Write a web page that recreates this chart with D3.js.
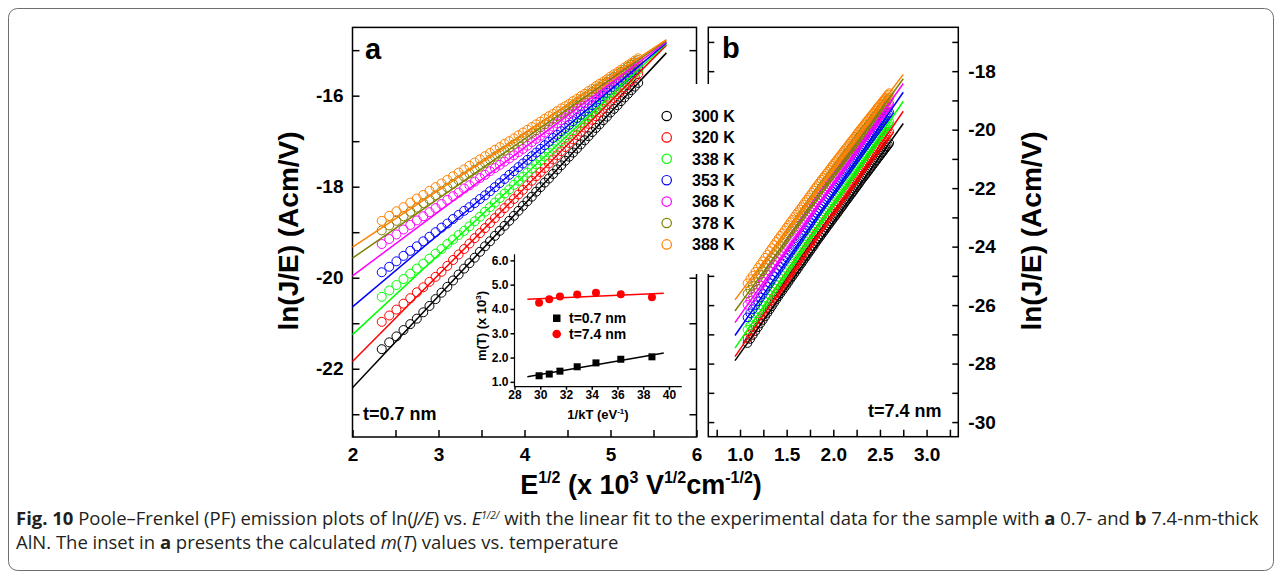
<!DOCTYPE html>
<html>
<head>
<meta charset="utf-8">
<script src="https://cdn.jsdelivr.net/npm/d3@7"></script>
<style>
  body { margin: 0; background: #fff; }
  svg { display: block; }
</style>
</head>
<body>
<svg id="chart" width="1282" height="578"></svg>
<script>
// temperatures and Origin-style colours
const temps = ["300 K", "320 K", "338 K", "353 K", "368 K", "378 K", "388 K"];
const colors = ["#000000", "#ff0000", "#00ff00", "#0000ff", "#ff00ff", "#808000", "#ff8000"];

// ---- panel a : t = 0.7 nm ----
const fieldA = [2.340, 2.427, 2.511, 2.593, 2.672, 2.748, 2.823, 2.895, 2.966, 3.035, 3.103, 3.169, 3.234, 3.298,
  3.360, 3.421, 3.482, 3.541, 3.599, 3.656, 3.712, 3.768, 3.823, 3.877, 3.930, 3.982, 4.034, 4.085, 4.136, 4.186,
  4.235, 4.284, 4.332, 4.380, 4.427, 4.474, 4.520, 4.565, 4.611, 4.655, 4.700, 4.744, 4.787, 4.831, 4.873, 4.916,
  4.958, 4.999, 5.041, 5.082, 5.123, 5.163, 5.203, 5.243, 5.282, 5.322];
const a300 = [-21.57, -21.42, -21.29, -21.15, -21.02, -20.90, -20.76, -20.62, -20.47, -20.33, -20.20, -20.06, -19.93,
  -19.80, -19.68, -19.56, -19.43, -19.31, -19.20, -19.08, -18.97, -18.86, -18.75, -18.64, -18.53, -18.42, -18.32,
  -18.22, -18.11, -18.01, -17.91, -17.82, -17.72, -17.62, -17.53, -17.43, -17.34, -17.25, -17.16, -17.07, -16.98,
  -16.89, -16.80, -16.71, -16.63, -16.54, -16.46, -16.37, -16.29, -16.21, -16.12, -16.04, -15.96, -15.88, -15.80, -15.72];
const a320 = [-20.97, -20.83, -20.70, -20.57, -20.45, -20.32, -20.21, -20.09, -19.98, -19.87, -19.74, -19.61, -19.49,
  -19.37, -19.25, -19.13, -19.02, -18.91, -18.80, -18.69, -18.58, -18.47, -18.37, -18.27, -18.17, -18.07, -17.97,
  -17.87, -17.77, -17.68, -17.59, -17.49, -17.40, -17.31, -17.22, -17.13, -17.04, -16.96, -16.87, -16.79, -16.70,
  -16.62, -16.53, -16.45, -16.37, -16.29, -16.21, -16.13, -16.05, -15.97, -15.89, -15.82, -15.74, -15.67, -15.59, -15.52];
const a338 = [-20.42, -20.28, -20.16, -20.03, -19.91, -19.80, -19.69, -19.58, -19.47, -19.37, -19.26, -19.16, -19.06,
  -18.97, -18.87, -18.76, -18.66, -18.55, -18.45, -18.35, -18.25, -18.15, -18.06, -17.96, -17.87, -17.78, -17.69,
  -17.60, -17.51, -17.42, -17.34, -17.25, -17.17, -17.08, -17.00, -16.92, -16.84, -16.76, -16.68, -16.60, -16.52,
  -16.45, -16.37, -16.29, -16.22, -16.14, -16.07, -16.00, -15.93, -15.85, -15.78, -15.71, -15.64, -15.57, -15.50, -15.43];
const a353 = [-19.88, -19.76, -19.64, -19.52, -19.41, -19.31, -19.20, -19.10, -19.00, -18.90, -18.81, -18.71, -18.62,
  -18.53, -18.45, -18.36, -18.27, -18.19, -18.10, -18.01, -17.92, -17.83, -17.74, -17.66, -17.57, -17.49, -17.41,
  -17.33, -17.25, -17.17, -17.09, -17.01, -16.93, -16.86, -16.78, -16.71, -16.64, -16.56, -16.49, -16.42, -16.35,
  -16.28, -16.21, -16.14, -16.08, -16.01, -15.94, -15.88, -15.81, -15.74, -15.68, -15.61, -15.55, -15.49, -15.43, -15.36];
const a368 = [-19.26, -19.15, -19.05, -18.94, -18.84, -18.74, -18.65, -18.56, -18.47, -18.38, -18.29, -18.21, -18.13,
  -18.04, -17.97, -17.89, -17.81, -17.74, -17.66, -17.59, -17.52, -17.45, -17.38, -17.31, -17.24, -17.17, -17.10,
  -17.02, -16.95, -16.88, -16.81, -16.74, -16.68, -16.61, -16.54, -16.48, -16.41, -16.35, -16.28, -16.22, -16.16,
  -16.10, -16.04, -15.97, -15.92, -15.85, -15.80, -15.74, -15.68, -15.62, -15.56, -15.51, -15.45, -15.39, -15.34, -15.28];
const a378 = [-18.96, -18.85, -18.75, -18.65, -18.55, -18.46, -18.36, -18.28, -18.19, -18.10, -18.02, -17.94, -17.86,
  -17.78, -17.71, -17.63, -17.56, -17.48, -17.41, -17.34, -17.27, -17.21, -17.14, -17.07, -17.01, -16.94, -16.88,
  -16.82, -16.76, -16.69, -16.63, -16.57, -16.51, -16.45, -16.39, -16.33, -16.27, -16.21, -16.15, -16.09, -16.03,
  -15.98, -15.92, -15.86, -15.81, -15.75, -15.70, -15.64, -15.59, -15.53, -15.48, -15.43, -15.37, -15.32, -15.27, -15.22];
const a388 = [-18.75, -18.64, -18.54, -18.45, -18.35, -18.26, -18.18, -18.09, -18.01, -17.93, -17.85, -17.77, -17.69,
  -17.62, -17.54, -17.47, -17.40, -17.33, -17.26, -17.19, -17.13, -17.06, -17.00, -16.94, -16.87, -16.81, -16.75,
  -16.69, -16.63, -16.57, -16.51, -16.45, -16.40, -16.34, -16.28, -16.23, -16.18, -16.12, -16.07, -16.01, -15.96,
  -15.90, -15.85, -15.79, -15.74, -15.69, -15.64, -15.58, -15.53, -15.48, -15.43, -15.38, -15.33, -15.28, -15.23, -15.18];
// linear fits, value at each end of fitAx
const fitAx = [2.0, 5.65];
const fitAStart = [-22.42, -21.84, -21.25, -20.64, -19.96, -19.57, -19.33];
const fitAEnd = [-15.06, -14.89, -14.86, -14.84, -14.82, -14.79, -14.77];

// ---- panel b : t = 7.4 nm ----
const fieldB = [1.080, 1.109, 1.137, 1.165, 1.192, 1.218, 1.244, 1.269, 1.294, 1.319, 1.342, 1.366, 1.389, 1.412,
  1.434, 1.456, 1.478, 1.499, 1.520, 1.541, 1.561, 1.582, 1.601, 1.621, 1.641, 1.660, 1.679, 1.698, 1.716, 1.735,
  1.753, 1.771, 1.789, 1.807, 1.824, 1.842, 1.859, 1.876, 1.893, 1.909, 1.926, 1.942, 1.959, 1.975, 1.991, 2.007,
  2.022, 2.038, 2.054, 2.069, 2.084, 2.100, 2.115, 2.130, 2.145, 2.159, 2.174, 2.189, 2.203, 2.217, 2.232, 2.246,
  2.260, 2.274, 2.288, 2.302, 2.316, 2.329, 2.343, 2.356, 2.370, 2.383, 2.396, 2.410, 2.423, 2.436, 2.449, 2.462,
  2.475, 2.488, 2.500, 2.513, 2.526, 2.538, 2.551, 2.563, 2.575, 2.588, 2.600];
const b300 = [-27.30, -27.16, -27.02, -26.89, -26.76, -26.63, -26.51, -26.39, -26.27, -26.15, -26.04, -25.92, -25.81,
  -25.70, -25.60, -25.50, -25.40, -25.31, -25.21, -25.11, -25.02, -24.93, -24.84, -24.75, -24.65, -24.57, -24.48,
  -24.39, -24.31, -24.22, -24.14, -24.06, -23.98, -23.89, -23.81, -23.73, -23.66, -23.58, -23.51, -23.44, -23.36,
  -23.29, -23.22, -23.15, -23.08, -23.01, -22.95, -22.88, -22.81, -22.74, -22.68, -22.61, -22.54, -22.47, -22.41,
  -22.35, -22.28, -22.22, -22.16, -22.10, -22.03, -21.97, -21.91, -21.85, -21.78, -21.72, -21.66, -21.61, -21.55,
  -21.50, -21.44, -21.38, -21.33, -21.27, -21.21, -21.16, -21.10, -21.05, -20.99, -20.94, -20.89, -20.83, -20.78,
  -20.73, -20.67, -20.62, -20.57, -20.52, -20.46];
const b320 = [-27.14, -26.99, -26.85, -26.71, -26.58, -26.45, -26.32, -26.20, -26.07, -25.95, -25.84, -25.72, -25.60,
  -25.49, -25.39, -25.28, -25.18, -25.08, -24.98, -24.88, -24.79, -24.69, -24.60, -24.50, -24.41, -24.32, -24.23,
  -24.14, -24.05, -23.96, -23.88, -23.79, -23.70, -23.62, -23.54, -23.45, -23.38, -23.30, -23.22, -23.15, -23.07,
  -23.00, -22.92, -22.85, -22.78, -22.71, -22.64, -22.57, -22.49, -22.43, -22.36, -22.29, -22.22, -22.15, -22.08,
  -22.02, -21.95, -21.88, -21.82, -21.76, -21.69, -21.63, -21.56, -21.50, -21.44, -21.37, -21.31, -21.26, -21.19,
  -21.14, -21.08, -21.02, -20.96, -20.90, -20.84, -20.79, -20.73, -20.67, -20.62, -20.56, -20.51, -20.45, -20.39,
  -20.34, -20.28, -20.23, -20.18, -20.12, -20.07];
const b338 = [-26.84, -26.70, -26.56, -26.42, -26.28, -26.16, -26.03, -25.90, -25.78, -25.65, -25.54, -25.42, -25.30,
  -25.19, -25.08, -24.98, -24.87, -24.77, -24.67, -24.57, -24.48, -24.38, -24.29, -24.19, -24.10, -24.01, -23.92,
  -23.83, -23.74, -23.65, -23.56, -23.48, -23.39, -23.31, -23.23, -23.14, -23.06, -22.98, -22.91, -22.83, -22.76,
  -22.68, -22.61, -22.53, -22.46, -22.39, -22.32, -22.25, -22.17, -22.11, -22.04, -21.97, -21.90, -21.83, -21.76,
  -21.70, -21.63, -21.56, -21.50, -21.43, -21.37, -21.30, -21.24, -21.18, -21.11, -21.05, -20.99, -20.93, -20.87,
  -20.81, -20.75, -20.69, -20.63, -20.57, -20.51, -20.46, -20.40, -20.34, -20.28, -20.23, -20.17, -20.12, -20.06,
  -20.01, -19.95, -19.90, -19.84, -19.79, -19.73];
const b353 = [-26.42, -26.28, -26.14, -26.00, -25.87, -25.74, -25.62, -25.49, -25.37, -25.25, -25.13, -25.01, -24.90,
  -24.79, -24.69, -24.58, -24.48, -24.38, -24.28, -24.18, -24.09, -23.99, -23.90, -23.81, -23.71, -23.62, -23.53,
  -23.45, -23.36, -23.27, -23.19, -23.10, -23.02, -22.93, -22.85, -22.77, -22.69, -22.61, -22.54, -22.47, -22.39,
  -22.32, -22.24, -22.17, -22.10, -22.03, -21.96, -21.89, -21.82, -21.75, -21.68, -21.61, -21.54, -21.48, -21.41,
  -21.35, -21.28, -21.21, -21.15, -21.09, -21.02, -20.96, -20.90, -20.83, -20.77, -20.71, -20.65, -20.59, -20.53,
  -20.47, -20.41, -20.36, -20.30, -20.24, -20.18, -20.12, -20.07, -20.01, -19.96, -19.90, -19.85, -19.79, -19.73,
  -19.68, -19.63, -19.57, -19.52, -19.46, -19.41];
const b368 = [-25.99, -25.85, -25.72, -25.58, -25.45, -25.32, -25.20, -25.08, -24.96, -24.83, -24.72, -24.61, -24.49,
  -24.39, -24.28, -24.18, -24.08, -23.98, -23.89, -23.79, -23.70, -23.60, -23.51, -23.42, -23.33, -23.24, -23.15,
  -23.06, -22.98, -22.89, -22.81, -22.73, -22.64, -22.56, -22.48, -22.40, -22.32, -22.25, -22.17, -22.10, -22.03,
  -21.96, -21.88, -21.81, -21.74, -21.67, -21.60, -21.53, -21.46, -21.40, -21.33, -21.26, -21.20, -21.13, -21.06,
  -21.00, -20.94, -20.87, -20.81, -20.75, -20.68, -20.62, -20.56, -20.50, -20.43, -20.37, -20.31, -20.26, -20.20,
  -20.14, -20.08, -20.03, -19.97, -19.91, -19.86, -19.80, -19.75, -19.69, -19.63, -19.58, -19.53, -19.47, -19.42,
  -19.37, -19.31, -19.26, -19.21, -19.15, -19.10];
const b378 = [-25.61, -25.47, -25.34, -25.21, -25.08, -24.96, -24.84, -24.72, -24.60, -24.48, -24.38, -24.26, -24.15,
  -24.05, -23.95, -23.85, -23.75, -23.66, -23.56, -23.47, -23.38, -23.29, -23.20, -23.11, -23.02, -22.94, -22.85,
  -22.76, -22.68, -22.60, -22.52, -22.44, -22.36, -22.28, -22.20, -22.12, -22.04, -21.97, -21.90, -21.83, -21.76,
  -21.69, -21.62, -21.55, -21.48, -21.41, -21.35, -21.28, -21.21, -21.15, -21.08, -21.01, -20.95, -20.89, -20.82,
  -20.76, -20.70, -20.64, -20.58, -20.52, -20.45, -20.39, -20.33, -20.27, -20.21, -20.15, -20.10, -20.04, -19.98,
  -19.93, -19.87, -19.82, -19.77, -19.71, -19.65, -19.60, -19.55, -19.49, -19.44, -19.38, -19.33, -19.28, -19.23,
  -19.18, -19.12, -19.07, -19.02, -18.97, -18.92];
const b388 = [-25.25, -25.11, -24.99, -24.86, -24.73, -24.61, -24.50, -24.38, -24.27, -24.15, -24.05, -23.94, -23.83,
  -23.73, -23.63, -23.54, -23.44, -23.35, -23.26, -23.16, -23.08, -22.99, -22.90, -22.82, -22.73, -22.65, -22.56,
  -22.48, -22.40, -22.32, -22.24, -22.16, -22.08, -22.00, -21.93, -21.85, -21.78, -21.71, -21.64, -21.57, -21.50,
  -21.44, -21.37, -21.30, -21.23, -21.17, -21.10, -21.04, -20.97, -20.91, -20.85, -20.78, -20.72, -20.66, -20.60,
  -20.54, -20.48, -20.41, -20.36, -20.30, -20.24, -20.18, -20.12, -20.06, -20.00, -19.95, -19.89, -19.84, -19.78,
  -19.73, -19.67, -19.62, -19.57, -19.51, -19.46, -19.41, -19.36, -19.30, -19.25, -19.20, -19.15, -19.10, -19.05,
  -19.00, -18.95, -18.90, -18.85, -18.80, -18.75];
const fitBx = [0.946, 2.75];
const fitBStart = [-27.90, -27.76, -27.47, -27.04, -26.60, -26.20, -25.82];
const fitBEnd = [-19.79, -19.37, -19.03, -18.72, -18.42, -18.26, -18.11];

// ---- inset : m(T) vs 1/kT ----
const invKT = [29.91, 30.70, 31.53, 32.87, 34.33, 36.26, 38.68];
const m07 = [1.25, 1.32, 1.44, 1.62, 1.78, 1.93, 2.03];
const m74 = [4.26, 4.40, 4.51, 4.60, 4.67, 4.61, 4.48];
const fitInsetX = [29.0, 39.6];
const fit07 = [1.21, 2.19];
const fit74 = [4.40, 4.65];

// ticks
const xTicksA = [2, 2.5, 3, 3.5, 4, 4.5, 5, 5.5, 6];
const yTicksA = [-23, -22, -21, -20, -19, -18, -17, -16, -15];
const xTicksB = [0.75, 1, 1.25, 1.5, 1.75, 2, 2.25, 2.5, 2.75, 3, 3.25];
const yTicksB = [-30, -29, -28, -27, -26, -25, -24, -23, -22, -21, -20, -19, -18, -17];
const xTicksIn = [28, 30, 32, 34, 36, 38, 40];
const yTicksIn = [1, 2, 3, 4, 5, 6];

const seriesA = [a300, a320, a338, a353, a368, a378, a388];
const seriesB = [b300, b320, b338, b353, b368, b378, b388];

const FONT = 'Arial, "Liberation Sans", Helvetica, sans-serif';
const svg = d3.select("#chart");

// card border
svg.append("rect")
  .attr("x", 8.5).attr("y", 8.5).attr("width", 1265).attr("height", 562).attr("rx", 9)
  .attr("fill", "none").attr("stroke", "#6e6e6e").attr("stroke-width", 1);

// scales
const xA = d3.scaleLinear().domain([2, 6]).range([352.5, 696.5]);
const yA = d3.scaleLinear().domain([-23.5, -14.5]).range([437, 27.4]);
const xB = d3.scaleLinear().domain([0.66, 3.34]).range([708.3, 958.3]);
const yB = d3.scaleLinear().domain([-30.5, -16.5]).range([436.7, 27.3]);
const xI = d3.scaleLinear().domain([28, 41]).range([514.5, 681.8]);
const yI = d3.scaleLinear().domain([0.8, 6.25]).range([386.7, 254.3]);

function styleAxis(g, size) {
  g.select(".domain").remove();
  g.selectAll(".tick line").attr("stroke", "#000").attr("stroke-width", 1.5);
  g.selectAll("text").attr("fill", "#000").attr("font-family", FONT)
    .attr("font-weight", "bold").attr("font-size", size);
}

function frame(x, y) {
  svg.append("rect")
    .attr("x", x.range()[0]).attr("y", y.range()[1])
    .attr("width", x.range()[1] - x.range()[0]).attr("height", y.range()[0] - y.range()[1])
    .attr("fill", "none").attr("stroke", "#000").attr("stroke-width", 1.5);
}

// ---- panel a axes ----
svg.append("g").attr("transform", `translate(${xA.range()[0]},0)`)
  .call(d3.axisLeft(yA).tickValues(yTicksA).tickSize(-7).tickPadding(9)
    .tickFormat(d => d % 2 === 0 ? d : ""))
  .call(g => styleAxis(g, 19));
svg.append("g").attr("transform", `translate(${xA.range()[1]},0)`)
  .call(d3.axisRight(yA).tickValues(yTicksA).tickSize(-7).tickFormat(""))
  .call(g => styleAxis(g, 19));
svg.append("g").attr("transform", `translate(0,${yA.range()[0]})`)
  .call(d3.axisBottom(xA).tickValues(xTicksA).tickSize(-7).tickPadding(11)
    .tickFormat(d => Number.isInteger(d) ? d : ""))
  .call(g => styleAxis(g, 19));
frame(xA, yA);

// ---- panel b axes ----
svg.append("g").attr("transform", `translate(${xB.range()[0]},0)`)
  .call(d3.axisLeft(yB).tickValues(yTicksB).tickSize(-6).tickFormat(""))
  .call(g => styleAxis(g, 19));
svg.append("g").attr("transform", `translate(${xB.range()[1]},0)`)
  .call(d3.axisRight(yB).tickValues(yTicksB).tickSize(-6).tickPadding(10)
    .tickFormat(d => d % 2 === 0 ? d : ""))
  .call(g => styleAxis(g, 19));
svg.append("g").attr("transform", `translate(0,${yB.range()[0]})`)
  .call(d3.axisBottom(xB).tickValues(xTicksB).tickSize(-7).tickPadding(11)
    .tickFormat(d => (d * 2) % 1 === 0 ? d3.format(".1f")(d) : ""))
  .call(g => styleAxis(g, 19));
frame(xB, yB);

// ---- data ----
function scatter(xs, ys, x, y, color, r) {
  svg.append("g").selectAll("circle")
    .data(ys.map((v, i) => [xs[i], v]))
    .join("circle")
    .attr("cx", d => x(d[0])).attr("cy", d => y(d[1])).attr("r", r)
    .attr("fill", "none").attr("stroke", color).attr("stroke-width", 1);
}
function fitLine(xs, y0, y1, x, y, color, w) {
  svg.append("line")
    .attr("x1", x(xs[0])).attr("y1", y(y0))
    .attr("x2", x(xs[1])).attr("y2", y(y1))
    .attr("stroke", color).attr("stroke-width", w);
}

seriesA.forEach((s, i) => scatter(fieldA, s, xA, yA, colors[i], 4.5));
seriesA.forEach((s, i) => fitLine(fitAx, fitAStart[i], fitAEnd[i], xA, yA, colors[i], 1.5));
seriesB.forEach((s, i) => scatter(fieldB, s, xB, yB, colors[i], 4.3));
seriesB.forEach((s, i) => fitLine(fitBx, fitBStart[i], fitBEnd[i], xB, yB, colors[i], 1.5));

// ---- legend (white box over the gap between panels) ----
svg.append("rect").attr("x", 650).attr("y", 84).attr("width", 95).attr("height", 190).attr("fill", "#fff");
const leg = svg.append("g");
temps.forEach((t, i) => {
  const cy = 116 + i * 21.4;
  leg.append("circle").attr("cx", 666.7).attr("cy", cy).attr("r", 4.7)
    .attr("fill", "none").attr("stroke", colors[i]).attr("stroke-width", 1.2);
  leg.append("text").attr("x", 692).attr("y", cy).attr("dy", "0.36em")
    .attr("font-family", FONT).attr("font-weight", "bold").attr("font-size", 16).text(t);
});

// ---- panel labels ----
function label(x, y, txt, size) {
  return svg.append("text").attr("x", x).attr("y", y)
    .attr("font-family", FONT).attr("font-weight", "bold").attr("font-size", size).text(txt);
}
label(365, 58.5, "a", 29);
label(722, 57.5, "b", 29);
label(363, 420, "t=0.7 nm", 18);
label(868, 417, "t=7.4 nm", 18);

// ---- axis titles ----
const xt = svg.append("text").attr("x", 641).attr("y", 494).attr("text-anchor", "middle")
  .attr("font-family", FONT).attr("font-weight", "bold").attr("font-size", 27);
xt.append("tspan").text("E");
xt.append("tspan").attr("dy", -11).attr("font-size", 16).text("1/2");
xt.append("tspan").attr("dy", 11).text(" (x 10");
xt.append("tspan").attr("dy", -11).attr("font-size", 16).text("3");
xt.append("tspan").attr("dy", 11).text(" V");
xt.append("tspan").attr("dy", -11).attr("font-size", 16).text("1/2");
xt.append("tspan").attr("dy", 11).text("cm");
xt.append("tspan").attr("dy", -11).attr("font-size", 16).text("-1/2");
xt.append("tspan").attr("dy", 11).text(")");

[[298, 231], [1041, 231]].forEach(([x, y]) => {
  svg.append("text").attr("transform", `translate(${x},${y}) rotate(-90)`)
    .attr("text-anchor", "middle").attr("font-family", FONT).attr("font-weight", "bold")
    .attr("font-size", 28).text("ln(J/E) (Acm/V)");
});

// ---- inset ----
svg.append("g").attr("transform", `translate(${xI.range()[0]},0)`)
  .call(d3.axisLeft(yI).tickValues(yTicksIn).tickSize(4).tickPadding(2)
    .tickFormat(d3.format(".1f")))
  .call(g => styleAxis(g, 12));
svg.append("g").attr("transform", `translate(0,${yI.range()[0]})`)
  .call(d3.axisBottom(xI).tickValues(xTicksIn).tickSize(3).tickPadding(1))
  .call(g => styleAxis(g, 12));
svg.append("path")
  .attr("d", `M${xI.range()[0]},${yI.range()[1]}V${yI.range()[0]}H${xI.range()[1]}`)
  .attr("fill", "none").attr("stroke", "#000").attr("stroke-width", 1.2);

svg.append("line")
  .attr("x1", xI(fitInsetX[0])).attr("y1", yI(fit07[0]))
  .attr("x2", xI(fitInsetX[1])).attr("y2", yI(fit07[1]))
  .attr("stroke", "#000").attr("stroke-width", 1.5);
svg.append("line")
  .attr("x1", xI(fitInsetX[0])).attr("y1", yI(fit74[0]))
  .attr("x2", xI(fitInsetX[1])).attr("y2", yI(fit74[1]))
  .attr("stroke", "#ff0000").attr("stroke-width", 1.5);
svg.append("g").selectAll("rect").data(invKT.map((v, i) => [v, m07[i]])).join("rect")
  .attr("x", d => xI(d[0]) - 3.5).attr("y", d => yI(d[1]) - 3.5)
  .attr("width", 7).attr("height", 7).attr("fill", "#000");
svg.append("g").selectAll("circle").data(invKT.map((v, i) => [v, m74[i]])).join("circle")
  .attr("cx", d => xI(d[0])).attr("cy", d => yI(d[1])).attr("r", 4).attr("fill", "#ff0000");

svg.append("rect").attr("x", 553).attr("y", 314.5).attr("width", 7.5).attr("height", 7.5).attr("fill", "#000");
svg.append("circle").attr("cx", 556.7).attr("cy", 334).attr("r", 4.3).attr("fill", "#ff0000");
label(569, 323, "t=0.7 nm", 14);
label(569, 339, "t=7.4 nm", 14);

const iy = svg.append("text").attr("transform", "translate(486,326) rotate(-90)")
  .attr("text-anchor", "middle").attr("font-family", FONT).attr("font-weight", "bold").attr("font-size", 13);
iy.append("tspan").text("m(T) (x 10");
iy.append("tspan").attr("dy", -5).attr("font-size", 8).text("3");
iy.append("tspan").attr("dy", 5).text(")");

const ix = svg.append("text").attr("x", 598).attr("y", 419).attr("text-anchor", "middle")
  .attr("font-family", FONT).attr("font-weight", "bold").attr("font-size", 13);
ix.append("tspan").text("1/kT (eV");
ix.append("tspan").attr("dy", -5).attr("font-size", 8).text("-1");
ix.append("tspan").attr("dy", 5).text(")");

// ---- caption ----
const CAP = '"Open Sans", "Noto Sans", sans-serif';
function capLine(y, parts) {
  const t = svg.append("text").attr("x", 16).attr("y", y)
    .attr("font-family", CAP).attr("font-size", 16).attr("fill", "#231f20");
  parts.forEach(p => {
    const s = t.append("tspan").text(p.t);
    if (p.b) s.attr("font-weight", "bold");
    if (p.i) s.attr("font-style", "italic");
    if (p.dy) s.attr("dy", p.dy);
    if (p.fs) s.attr("font-size", p.fs);
  });
  return t;
}
const cap1 = capLine(525, [
  { t: "Fig. 10", b: true },
  { t: " Poole–Frenkel (PF) emission plots of ln(" },
  { t: "J/E", i: true },
  { t: ") vs. " },
  { t: "E", i: true },
  { t: "1/2/", i: true, dy: -6, fs: 10 },
  { t: " with the linear fit to the experimental data for the sample with ", dy: 6 },
  { t: "a", b: true },
  { t: " 0.7- and " },
  { t: "b", b: true },
  { t: " 7.4-nm-thick" }
]);
const cap2 = capLine(549, [
  { t: "AlN. The inset in " },
  { t: "a", b: true },
  { t: " presents the calculated " },
  { t: "m", i: true },
  { t: "(" },
  { t: "T", i: true },
  { t: ") values vs. temperature" }
]);
// fit the first caption line to the width of the card
const w1 = cap1.node().getComputedTextLength();
const fs = 16 * 1246 / w1;
[cap1, cap2].forEach(t => t.attr("font-size", fs));
</script>
</body>
</html>
